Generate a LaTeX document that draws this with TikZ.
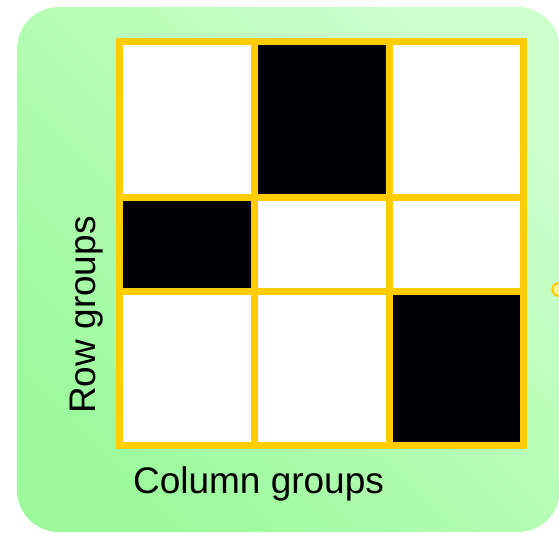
\documentclass[tikz,border=0pt]{standalone}
\usepackage{fontspec}
\setmainfont{Liberation Sans}
\definecolor{gold}{RGB}{255,204,0}
\definecolor{greenA}{RGB}{156,250,156}
\definecolor{greenB}{RGB}{204,255,204}
\definecolor{cellblack}{RGB}{0,0,4}
\definecolor{handlefill}{RGB}{255,240,160}
\begin{document}
\begin{tikzpicture}[x=1pt,y=-1pt,
  cellw/.style={fill=white, inner sep=0pt, outer sep=0pt},
  cellb/.style={fill=cellblack, inner sep=0pt, outer sep=0pt},
  gridline/.style={draw=gold, line width=7pt},
  lbl/.style={font=\fontsize{37}{44}\selectfont, inner sep=0pt, text=black}]
\useasboundingbox (0,0) rectangle (559,533);
\shade[rounded corners=42pt, bottom color=greenA, top color=greenB, shading angle=-45] (17,7) rectangle (560,532);
% cells
\node[cellw, minimum width=135pt, minimum height=155.5pt] (c11) at (187,119.25) {};
\node[cellb, minimum width=134.5pt, minimum height=155.5pt] (c12) at (321.75,119.25) {};
\node[cellw, minimum width=134.5pt, minimum height=155.5pt] (c13) at (456.25,119.25) {};
\node[cellb, minimum width=135pt, minimum height=94pt] (c21) at (187,244) {};
\node[cellw, minimum width=134.5pt, minimum height=94pt] (c22) at (321.75,244) {};
\node[cellw, minimum width=134.5pt, minimum height=94pt] (c23) at (456.25,244) {};
\node[cellw, minimum width=135pt, minimum height=154.5pt] (c31) at (187,368.25) {};
\node[cellw, minimum width=134.5pt, minimum height=154.5pt] (c32) at (321.75,368.25) {};
\node[cellb, minimum width=134.5pt, minimum height=154.5pt] (c33) at (456.25,368.25) {};
% gold grid
\draw[gridline] (c11.north west) rectangle (c33.south east);
\draw[gridline] (c11.north east) -- (c31.south east);
\draw[gridline] (c12.north east) -- (c32.south east);
\draw[gridline] (c11.south west) -- (c13.south east);
\draw[gridline] (c21.south west) -- (c23.south east);
% labels
\node[lbl, anchor=base] (colg) at (258.5,493) {Column groups};
\node[lbl, anchor=base, rotate=90] (rowg) at (95,315) {Row groups};
% handle
\node[circle, draw=gold, fill=handlefill, line width=2pt, minimum size=13pt, inner sep=0pt] (hdl) at (559,289.5) {};
\end{tikzpicture}
\end{document}
